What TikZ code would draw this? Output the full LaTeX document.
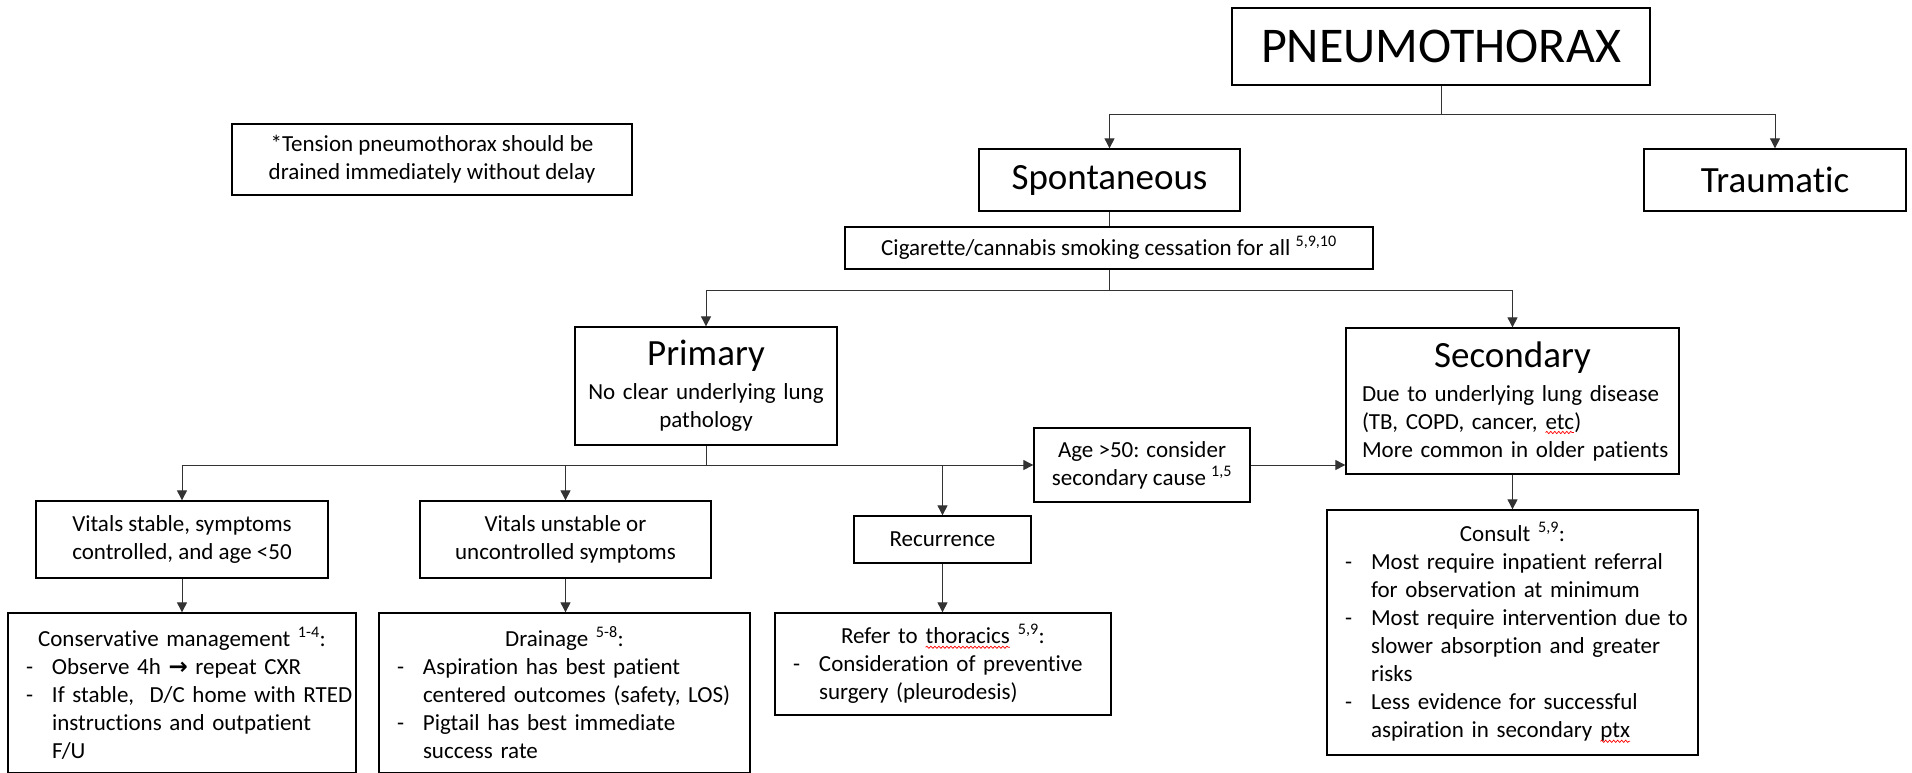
\documentclass[tikz,border=0pt]{standalone}
\usepackage{fontspec}
\setmainfont{Carlito}[Ligatures={TeX,NoCommon}]
\newfontfamily\symfont{DejaVu Sans}
\usetikzlibrary{arrows.meta,decorations.pathmorphing}

% red spell-check wave under a word
\newcommand\spellwave[1]{\tikz[baseline=(w.base)]{\node[inner sep=0pt, outer sep=0pt, minimum width=0pt,
    minimum height=0pt, text width={}, align=none, anchor=base] (w) {#1};
  \draw[red, line width=0.7pt, decorate, decoration={snake, amplitude=1.1pt, segment length=4pt}]
    ([yshift=-3.5pt]w.base west) -- ([yshift=-3.5pt]w.base east);}}
% one dash line of a list box
\newcommand\dashitem[1]{\par\noindent\hangindent=44pt\hangafter=1\makebox[44pt][l]{\hspace{18pt}-}#1\par}

\begin{document}
\begin{tikzpicture}[x=1pt, y=-1pt,
    box/.style={draw, line width=1.3pt, inner sep=4pt, font=\fontsize{23}{28}\selectfont},
    listbox/.style={box, align=left, inner xsep=0pt},
    big/.style={font=\fontsize{37}{44}\selectfont},
    wire/.style={line width=0.9pt, draw=black!80},
    arr/.style={wire, -{Triangle[length=10pt,width=10pt]}}]
  \useasboundingbox (0,0) rectangle (1912,772);

  % top of the tree
  \node[box, minimum width=418pt, minimum height=77pt, font=\fontsize{50}{60}\selectfont] (pneumo) at (1441,46.5) {PNEUMOTHORAX};
  \node[box, minimum width=400pt, minimum height=71pt, align=center] (tension) at (432,159.5) {*Tension pneumothorax should be\\ drained immediately without delay};
  \node[box, big, minimum width=261pt, minimum height=62pt] (spont) at (1109.5,180) {Spontaneous};
  \node[box, big, minimum width=262pt, minimum height=62pt] (traum) at (1775,180) {Traumatic};
  \node[box, minimum width=528pt, minimum height=42pt] (cessation) at (1109,248) {Cigarette/cannabis smoking cessation for all \textsuperscript{5,9,10}};

  % primary / secondary
  \node[box, minimum width=262pt, minimum height=118pt, text width=254pt, align=center] (primary) at (706,386)
    {{\fontsize{37}{44}\selectfont Primary\par}\vspace{6pt}No clear underlying lung\\ pathology};
  \node[listbox, minimum width=333pt, minimum height=146pt, text width=333pt] (secondary) at (1512.5,401)
    {{\centering\fontsize{37}{44}\selectfont Secondary\par}\vspace{6pt}\leftskip=16pt Due to underlying lung disease\\ (TB, COPD, cancer, \spellwave{etc})\\ More common in older patients\par};
  \node[box, minimum width=216pt, minimum height=74pt, align=center] (agecheck) at (1142,465) {Age >50: consider\\ secondary cause \textsuperscript{1,5}};

  % primary branches
  \node[box, minimum width=292pt, minimum height=77pt, align=center] (stable) at (182,539.5) {Vitals stable, symptoms\\ controlled, and age <50};
  \node[box, minimum width=291pt, minimum height=77pt, align=center] (unstable) at (565.5,539.5) {Vitals unstable or\\ uncontrolled symptoms};
  \node[box, minimum width=177pt, minimum height=47pt] (recur) at (942.5,539.5) {Recurrence};

  % management boxes
  \node[listbox, minimum width=348pt, minimum height=160pt, text width=348pt] (conserv) at (182,693)
    {{\centering Conservative management \textsuperscript{1-4}:\par}
     \dashitem{Observe 4h {\symfont\bfseries →} repeat CXR}
     \dashitem{\mbox{If stable,~ D/C home with RTED}\newline instructions and outpatient\newline F/U}};
  \node[listbox, minimum width=371pt, minimum height=160pt, text width=371pt] (drain) at (564.5,693)
    {{\centering Drainage \textsuperscript{5-8}:\par}
     \dashitem{Aspiration has best patient\newline \mbox{centered outcomes (safety, LOS)}}
     \dashitem{Pigtail has best immediate\newline success rate}};
  \node[listbox, minimum width=336pt, minimum height=102pt, text width=336pt] (refer) at (943,664)
    {{\centering Refer to \spellwave{thoracics} \textsuperscript{5,9}:\par}
     \dashitem{Consideration of preventive\newline surgery (pleurodesis)}};
  \node[listbox, minimum width=371pt, minimum height=245pt, text width=371pt] (consult) at (1512.5,632.5)
    {{\centering Consult \textsuperscript{5,9}:\par}
     \dashitem{Most require inpatient referral\newline for observation at minimum}
     \dashitem{\mbox{Most require intervention due to}\newline slower absorption and greater\newline risks}
     \dashitem{Less evidence for successful\newline aspiration in secondary \spellwave{ptx}}};

  % connectors
  \draw[arr] (pneumo.south) -- ++(0,29) -| (spont.north);
  \draw[arr] (pneumo.south) -- ++(0,29) -| (traum.north);
  \draw[wire] (spont.south) -- (spont.south |- cessation.north);
  \draw[arr] (cessation.south) -- ++(0,21) -| (primary.north);
  \draw[arr] (cessation.south) -- ++(0,21) -| (secondary.north);
  \draw[arr] (primary.south) -- ++(0,20) -| (stable.north);
  \draw[arr] (primary.south) -- ++(0,20) -| (unstable.north);
  \draw[arr] (primary.south) -- ++(0,20) -| (recur.north);
  \draw[arr] (primary.south) |- (agecheck.west);
  \draw[arr] (agecheck.east) -- (agecheck.east -| secondary.west);
  \draw[arr] (stable.south) -- (conserv.north);
  \draw[arr] (unstable.south) -- (unstable.south |- drain.north);
  \draw[arr] (recur.south) -- (recur.south |- refer.north);
  \draw[arr] (secondary.south) -- (consult.north);
\end{tikzpicture}
\end{document}
